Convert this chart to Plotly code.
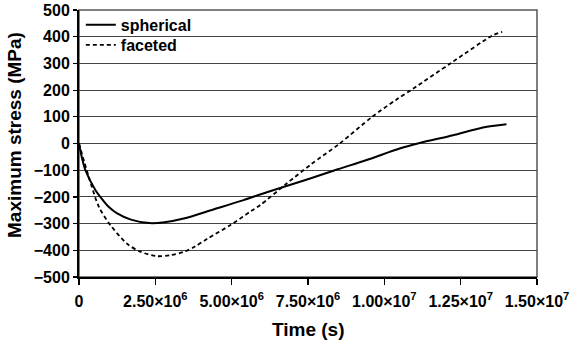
import plotly.graph_objects as go

# Time (s) and maximum stress (MPa)
spherical_t = [0, 0.1e6, 0.21e6, 0.54e6, 0.7e6, 0.97e6, 1.25e6, 1.7e6, 2.3e6, 2.8e6,
               3.43e6, 4.4e6, 5.39e6, 5.93e6, 6.69e6, 7.57e6, 8.38e6, 9.42e6, 1.05e7,
               1.116e7, 1.225e7, 1.323e7, 1.40e7]
spherical_s = [0, -55, -100, -175, -200, -237, -262, -285, -298, -295,
               -281, -247, -212, -191, -163, -131, -100, -62, -19,
               2, 31, 60, 72]

faceted_t = [0, 0.32e6, 0.65e6, 1.03e6, 1.57e6, 2.0e6, 2.55e6, 3.0e6, 3.43e6, 3.8e6,
             4.2e6, 4.95e6, 5.6e6, 5.93e6, 6.8e6, 7.6e6, 8.54e6, 9.6e6, 1.04e7,
             1.094e7, 1.219e7, 1.355e7, 1.386e7]
faceted_s = [0, -125, -237, -306, -375, -405, -422, -418, -406, -386,
             -357, -306, -256, -231, -150, -78, 0, 100, 165,
             205, 302, 405, 418]

x_tickvals = [0, 2.5e6, 5.0e6, 7.5e6, 1.0e7, 1.25e7, 1.5e7]
x_ticktext = ["0", "2.50×10<sup>6</sup>", "5.00×10<sup>6</sup>", "7.50×10<sup>6</sup>",
              "1.00×10<sup>7</sup>", "1.25×10<sup>7</sup>", "1.50×10<sup>7</sup>"]
y_tickvals = [500, 400, 300, 200, 100, 0, -100, -200, -300, -400, -500]

FONT = "Liberation Sans, Arial, sans-serif"
BOLD = dict(family=FONT, color="black", weight="bold")

fig = go.Figure()
fig.add_trace(go.Scatter(x=spherical_t, y=spherical_s, mode="lines", name="spherical",
                         legend="legend",
                         line=dict(color="black", width=2, shape="spline", smoothing=0.8)))
fig.add_trace(go.Scatter(x=faceted_t, y=faceted_s, mode="lines", name="faceted",
                         legend="legend2",
                         line=dict(color="black", width=1.8, dash="4px,3px",
                                   shape="spline", smoothing=0.8)))

legend_common = dict(xanchor="left", yanchor="middle", bgcolor="rgba(0,0,0,0)",
                     borderwidth=0, font=dict(size=16, **BOLD))

fig.update_layout(
    width=580, height=346,
    margin=dict(l=79, r=43, t=10, b=69, autoexpand=False),
    paper_bgcolor="white", plot_bgcolor="white",
    font=dict(family=FONT, color="black", size=14),
    showlegend=True,
    legend=dict(x=0.004, y=0.944, **legend_common),
    legend2=dict(x=0.004, y=0.869, **legend_common),
    shapes=[dict(type="rect", xref="paper", yref="paper", x0=0, y0=0, x1=1, y1=1,
                 line=dict(color="#555", width=1.5), layer="below")],
    annotations=[
        dict(text="Time (s)", xref="paper", yref="paper", x=0.5, y=-0.1985,
             xanchor="center", yanchor="middle", showarrow=False,
             font=dict(size=19, **BOLD)),
        dict(text="Maximum stress (MPa)", xref="paper", yref="paper", x=-0.1397, y=0.532,
             xanchor="center", yanchor="middle", showarrow=False, textangle=-90,
             font=dict(size=19, **BOLD)),
    ],
)

fig.update_xaxes(
    range=[0, 1.5e7], tickvals=x_tickvals, ticktext=x_ticktext,
    showgrid=False, zeroline=False, automargin=False,
    showline=True, linecolor="black", linewidth=1.5,
    ticks="outside", ticklen=6, tickcolor="black", tickwidth=1.2,
    ticklabelstandoff=3,
    tickfont=dict(size=16, **BOLD),
)
fig.update_yaxes(
    range=[-500, 500], tickvals=y_tickvals,
    showgrid=True, gridcolor="#444", gridwidth=1,
    zeroline=False, automargin=False,
    showline=True, linecolor="black", linewidth=2,
    ticks="outside", ticklen=4, tickcolor="black", tickwidth=1.2,
    tickfont=dict(size=16, **BOLD),
)

fig.write_html("out.html",
               config={"displayModeBar": False, "staticPlot": True},
               post_script="document.body.style.margin='0';document.body.style.overflow='hidden';")
